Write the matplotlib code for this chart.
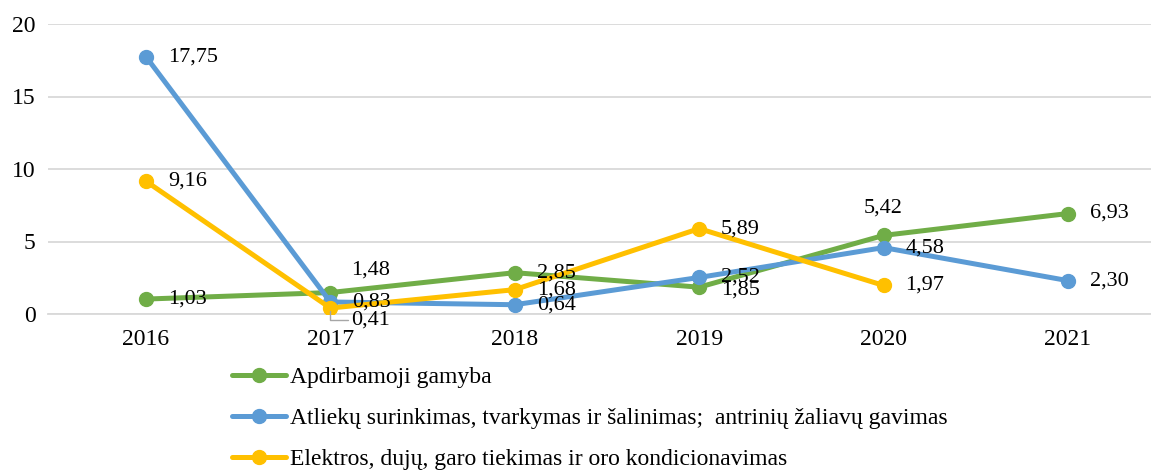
import numpy as np
import matplotlib.pyplot as plt

plt.rcParams['font.family'] = 'serif'
plt.rcParams['font.serif'] = ['Liberation Serif', 'DejaVu Serif']

years = ['2016', '2017', '2018', '2019', '2020', '2021']
apdirbamoji = [1.03, 1.48, 2.85, 1.85, 5.42, 6.93]
atliekos = [17.75, 0.83, 0.64, 2.52, 4.58, 2.30]
elektra = [9.16, 0.41, 1.68, 5.89, 1.97]

names = ['Apdirbamoji gamyba',
         'Atliekų surinkimas, tvarkymas ir šalinimas;  antrinių žaliavų gavimas',
         'Elektros, dujų, garo tiekimas ir oro kondicionavimas']
colors = ['#70AD47', '#5B9BD5', '#FFC000']

fig = plt.figure(figsize=(11.51, 4.70), dpi=100)
ax = fig.add_axes([48 / 1151, 1 - 314 / 470, 1 - 48 / 1151, 290 / 470])

x = np.arange(len(years))
series = [apdirbamoji, atliekos, elektra]
for vals, name, c in zip(series, names, colors):
    xs = x[:len(vals)]
    ax.plot(xs, vals, color=c, lw=3.6, marker='o', ms=10, label=name,
            solid_capstyle='round', zorder=3)

def fmt(v):
    return ('%.2f' % v).replace('.', ',')

# label offsets in pixels (dx, dy), default to the right of the point
special = {(0, 1): (21, 22, 'left'), (2, 1): (21, -12, 'left'),
           (0, 4): (0, 27, 'center'), (0, 3): (22, -3, 'left')}
for si, vals in enumerate(series):
    for i, v in enumerate(vals):
        dx, dy, ha = special.get((si, i), (22, 0, 'left'))
        ax.annotate(fmt(v), (i, v), xytext=(dx, dy), textcoords='offset pixels',
                    ha=ha, va='center', fontsize=16, color='#000000', zorder=4)

# leader line for 0,41
ax.annotate('', (1, elektra[1]), xytext=(20, -12), textcoords='offset pixels',
            arrowprops=dict(arrowstyle='-', color='#A6A6A6', lw=1,
                            connectionstyle='angle,angleA=0,angleB=90'))

ax.set_xlim(-0.531, 5.45)
ax.set_ylim(0, 20)
ax.set_yticks([0, 5, 10, 15, 20])
ax.set_xticks(x)
ax.set_xticklabels(years)
ax.tick_params(length=0, labelsize=17, pad=11)
ax.tick_params(axis='y', pad=9)
ax.grid(axis='y', color='#D9D9D9', lw=1.3)
ax.set_axisbelow(True)
for s in ['top', 'right', 'left']:
    ax.spines[s].set_visible(False)
ax.spines['bottom'].set_color('#D9D9D9')
ax.spines['bottom'].set_linewidth(1.3)

fig.legend(loc='upper left', bbox_to_anchor=(220 / 1151, 1 - 355 / 470),
           frameon=False, fontsize=17, handlelength=2.3, handletextpad=0.15,
           labelspacing=0.82, borderpad=0, numpoints=1)

fig.savefig('out.png', dpi=100)
